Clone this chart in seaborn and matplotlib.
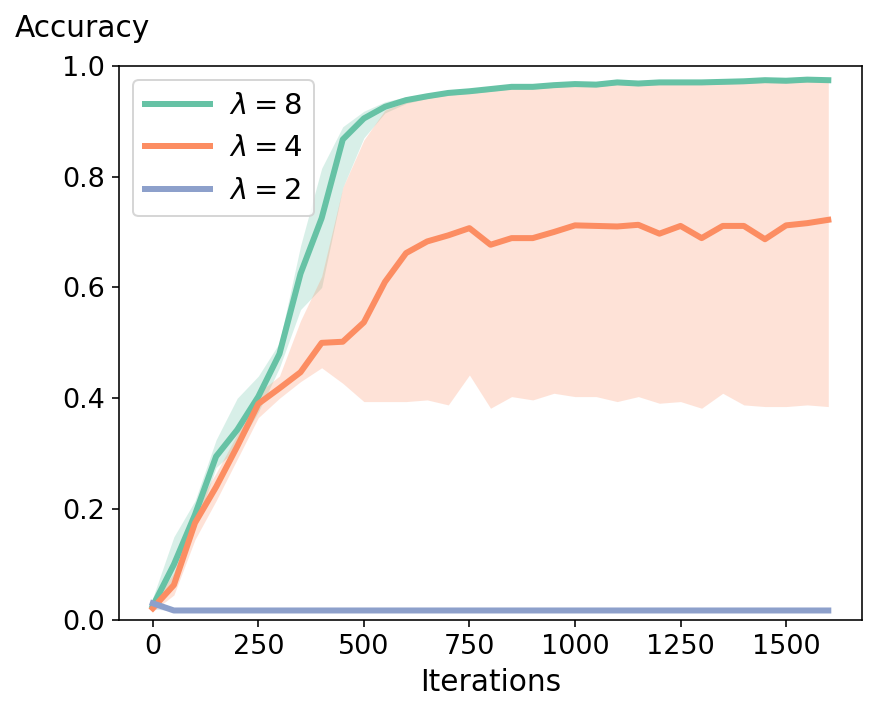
import matplotlib

matplotlib.use("Agg")
import matplotlib.pyplot as plt
import pandas as pd
import seaborn as sns

# Training iterations (x axis)
ITERATIONS = [0, 50, 100, 150, 200, 250, 300, 350, 400, 450, 500, 550, 600, 650, 700, 750,
              800, 850, 900, 950, 1000, 1050, 1100, 1150, 1200, 1250, 1300, 1350, 1400,
              1450, 1500, 1550, 1600]
X_TICKS = [0, 250, 500, 750, 1000, 1250, 1500]
Y_TICKS = [0.0, 0.2, 0.4, 0.6, 0.8, 1.0]

LABELS = [r"$\lambda = 8$", r"$\lambda = 4$", r"$\lambda = 2$"]

# lambda = 8: mean accuracy and band
ACC_L8 = [0.025, 0.100, 0.190, 0.295, 0.343, 0.403, 0.480, 0.625, 0.725, 0.867, 0.905,
          0.926, 0.938, 0.945, 0.951, 0.954, 0.958, 0.962, 0.962, 0.965, 0.967, 0.966,
          0.970, 0.968, 0.970, 0.970, 0.970, 0.971, 0.972, 0.974, 0.973, 0.975, 0.974]
LOW_L8 = [0.018, 0.065, 0.165, 0.275, 0.310, 0.375, 0.455, 0.560, 0.600, 0.780, 0.870,
          0.915, 0.932, 0.941, 0.947, 0.950, 0.954, 0.958, 0.958, 0.961, 0.963, 0.962,
          0.966, 0.964, 0.966, 0.966, 0.966, 0.967, 0.968, 0.970, 0.969, 0.971, 0.970]
HIGH_L8 = [0.040, 0.150, 0.215, 0.325, 0.400, 0.440, 0.500, 0.675, 0.815, 0.890, 0.918,
           0.935, 0.944, 0.949, 0.955, 0.958, 0.962, 0.966, 0.966, 0.969, 0.971, 0.970,
           0.974, 0.972, 0.974, 0.974, 0.974, 0.975, 0.976, 0.978, 0.977, 0.979, 0.978]

# lambda = 4
ACC_L4 = [0.021, 0.063, 0.175, 0.240, 0.313, 0.390, 0.418, 0.447, 0.500, 0.502, 0.537,
          0.610, 0.662, 0.683, 0.694, 0.707, 0.677, 0.689, 0.689, 0.700, 0.712, 0.711,
          0.710, 0.713, 0.697, 0.711, 0.689, 0.711, 0.711, 0.687, 0.712, 0.716, 0.722]
LOW_L4 = [0.015, 0.045, 0.145, 0.215, 0.290, 0.365, 0.400, 0.430, 0.455, 0.427, 0.394,
          0.394, 0.394, 0.397, 0.388, 0.442, 0.382, 0.403, 0.397, 0.409, 0.403, 0.403,
          0.394, 0.403, 0.391, 0.394, 0.382, 0.409, 0.388, 0.385, 0.385, 0.388, 0.385]
HIGH_L4 = [0.030, 0.085, 0.200, 0.265, 0.335, 0.410, 0.440, 0.540, 0.620, 0.780, 0.866,
           0.920, 0.935, 0.943, 0.949, 0.952, 0.956, 0.960, 0.960, 0.963, 0.965, 0.964,
           0.968, 0.966, 0.968, 0.968, 0.968, 0.969, 0.970, 0.972, 0.971, 0.973, 0.972]

# lambda = 2
ACC_L2 = [0.030, 0.017, 0.017, 0.017, 0.017, 0.017, 0.017, 0.017, 0.017, 0.017, 0.017,
          0.017, 0.017, 0.017, 0.017, 0.017, 0.017, 0.017, 0.017, 0.017, 0.017, 0.017,
          0.017, 0.017, 0.017, 0.017, 0.017, 0.017, 0.017, 0.017, 0.017, 0.017, 0.017]
LOW_L2 = [0.020, 0.016, 0.016, 0.016, 0.016, 0.016, 0.016, 0.016, 0.016, 0.016, 0.016,
          0.016, 0.016, 0.016, 0.016, 0.016, 0.016, 0.016, 0.016, 0.016, 0.016, 0.016,
          0.016, 0.016, 0.016, 0.016, 0.016, 0.016, 0.016, 0.016, 0.016, 0.016, 0.016]
HIGH_L2 = [0.040, 0.018, 0.018, 0.018, 0.018, 0.018, 0.018, 0.018, 0.018, 0.018, 0.018,
           0.018, 0.018, 0.018, 0.018, 0.018, 0.018, 0.018, 0.018, 0.018, 0.018, 0.018,
           0.018, 0.018, 0.018, 0.018, 0.018, 0.018, 0.018, 0.018, 0.018, 0.018, 0.018]

SERIES = [
    (LABELS[0], ACC_L8, LOW_L8, HIGH_L8),
    (LABELS[1], ACC_L4, LOW_L4, HIGH_L4),
    (LABELS[2], ACC_L2, LOW_L2, HIGH_L2),
]

palette = sns.color_palette("Set2", 3)

frames = []
for label, mean, low, high in SERIES:
    frames.append(pd.DataFrame({
        "Iterations": ITERATIONS,
        "Accuracy": mean,
        "low": low,
        "high": high,
        "setting": label,
    }))
data = pd.concat(frames, ignore_index=True)

fig, ax = plt.subplots(figsize=(886 / 144, 715 / 144), dpi=144)
fig.subplots_adjust(left=0.1343, right=0.973, bottom=0.133, top=0.908)

sns.lineplot(
    data=data,
    x="Iterations",
    y="Accuracy",
    hue="setting",
    hue_order=LABELS,
    palette=palette,
    linewidth=3,
    errorbar=None,
    ax=ax,
)
for color, label in zip(palette, LABELS):
    part = data[data["setting"] == label]
    ax.fill_between(part["Iterations"], part["low"], part["high"],
                    color=color, alpha=0.25, linewidth=0)

ax.set_ylim(0, 1)
ax.set_xticks(X_TICKS)
ax.set_yticks(Y_TICKS)
ax.tick_params(labelsize=13.5)
ax.set_xlabel("Iterations", fontsize=14.8)
ax.set_ylabel("Accuracy", fontsize=14.8, rotation=0, ha="left", va="center")
ax.yaxis.set_label_coords(-0.140, 1.068)
ax.legend(loc="upper left", fontsize=14.5, handlelength=2.25, handletextpad=0.65)

fig.savefig("out.png", dpi=144)
plt.close(fig)
